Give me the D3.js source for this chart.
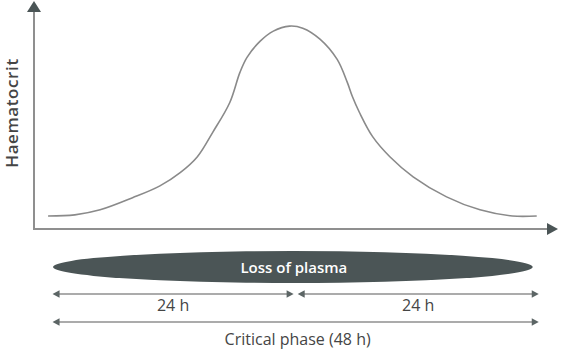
<!DOCTYPE html>
<html>
<head>
<meta charset="utf-8">
<script src="https://cdn.jsdelivr.net/npm/d3@7"></script>
<style>
  html, body { margin: 0; padding: 0; background: #fff; }
  svg { display: block; font-family: "Open Sans", sans-serif; }
</style>
</head>
<body>
<svg id="chart" width="561" height="350"></svg>
<script>
// Hours since start of critical phase (x) and relative haematocrit (y)
const hours = [-0.44, 2.2, 4.7, 7.9, 10.6, 12.6, 14.3, 15.8, 17.5, 18.5, 19.2, 20.5, 21.8, 23.4,
               24.7, 26.4, 28.1, 29.1, 29.6, 30.3, 31.6, 33.3, 35.6, 38.9, 42.2, 45.4, 47.8];
const haematocrit = [5.7, 6.2, 8.4, 13.7, 18.9, 24.7, 31.7, 42.3, 55.5, 68.7, 75.3, 82.4, 86.8, 89.0,
                     88.1, 83.3, 74.4, 64.3, 58.1, 51.1, 40.5, 31.7, 22.9, 14.1, 8.4, 5.7, 5.7];

const yLabel = "Haematocrit";
const plasmaLabel = "Loss of plasma";
const plasmaSpan = [0.05, 47.4];
const halfSpans = [[0, 23.8], [24.2, 48]];
const halfLabels = ["24 h", "24 h"];
const fullSpan = [0, 48];
const fullLabel = "Critical phase (48 h)";

const xDomain = [-1.83, 49.9];
const yDomain = [0, 100];

const svg = d3.select("#chart");
const x = d3.scaleLinear().domain(xDomain).range([34, 558]);
const y = d3.scaleLinear().domain(yDomain).range([229, 1]);

const axisColor = "#8f8f8f";
const headColor = "#4b5556";
const textColor = "#454545";

// Axes
const x0 = x(xDomain[0]), y0 = y(yDomain[0]);
svg.append("line").attr("x1", x0).attr("x2", x(xDomain[1]) - 10)
  .attr("y1", y0).attr("y2", y0).attr("stroke", axisColor).attr("stroke-width", 2);
svg.append("line").attr("x1", x0).attr("x2", x0)
  .attr("y1", y0 + 1).attr("y2", y(yDomain[1]) + 10).attr("stroke", axisColor).attr("stroke-width", 2);
// arrowheads
const xt = x(xDomain[1]), yt = y(yDomain[1]);
svg.append("path").attr("d", `M${xt},${y0} L${xt - 11},${y0 - 6} L${xt - 11},${y0 + 6} Z`).attr("fill", headColor);
svg.append("path").attr("d", `M${x0},${yt} L${x0 - 7},${yt + 11} L${x0 + 7},${yt + 11} Z`).attr("fill", headColor);

// Y label
svg.append("text")
  .attr("transform", `translate(18,113) rotate(-90)`)
  .attr("text-anchor", "middle")
  .attr("font-size", 17).attr("font-weight", 600)
  .attr("letter-spacing", 0.6)
  .attr("fill", textColor)
  .text(yLabel);

// Curve
const pts = hours.map((h, i) => [h, haematocrit[i]]);
const line = d3.line().x(d => x(d[0])).y(d => y(d[1])).curve(d3.curveCatmullRom.alpha(0.5));
svg.append("path").attr("d", line(pts)).attr("fill", "none")
  .attr("stroke", "#8a8a8a").attr("stroke-width", 1.6);

// Loss of plasma ellipse
const ex0 = x(plasmaSpan[0]), ex1 = x(plasmaSpan[1]);
svg.append("ellipse").attr("cx", (ex0 + ex1) / 2).attr("cy", 267)
  .attr("rx", (ex1 - ex0) / 2).attr("ry", 16).attr("fill", headColor);
svg.append("text").attr("x", (ex0 + ex1) / 2 + 1).attr("y", 273)
  .attr("text-anchor", "middle").attr("font-size", 15).attr("font-weight", 600)
  .attr("fill", "#fff").text(plasmaLabel);

// Double-headed arrows
function arrow(a, b, yy) {
  const xa = x(a), xb = x(b);
  svg.append("line").attr("x1", xa + 3).attr("x2", xb - 3).attr("y1", yy).attr("y2", yy)
    .attr("stroke", axisColor).attr("stroke-width", 1.6);
  svg.append("path").attr("d", `M${xa},${yy} L${xa + 7},${yy - 3.8} L${xa + 7},${yy + 3.8} Z`).attr("fill", "#5c6565");
  svg.append("path").attr("d", `M${xb},${yy} L${xb - 7},${yy - 3.8} L${xb - 7},${yy + 3.8} Z`).attr("fill", "#5c6565");
}
halfSpans.forEach((s, i) => {
  arrow(s[0], s[1], 294);
  svg.append("text").attr("x", (x(s[0]) + x(s[1])) / 2).attr("y", 310.5)
    .attr("text-anchor", "middle").attr("font-size", 16).attr("font-weight", 500)
    .attr("fill", textColor).text(halfLabels[i]);
});
arrow(fullSpan[0], fullSpan[1], 322);
svg.append("text").attr("x", (x(fullSpan[0]) + x(fullSpan[1])) / 2 + 2).attr("y", 345)
  .attr("text-anchor", "middle").attr("font-size", 16).attr("font-weight", 500)
  .attr("fill", textColor).text(fullLabel);
</script>
</body>
</html>
